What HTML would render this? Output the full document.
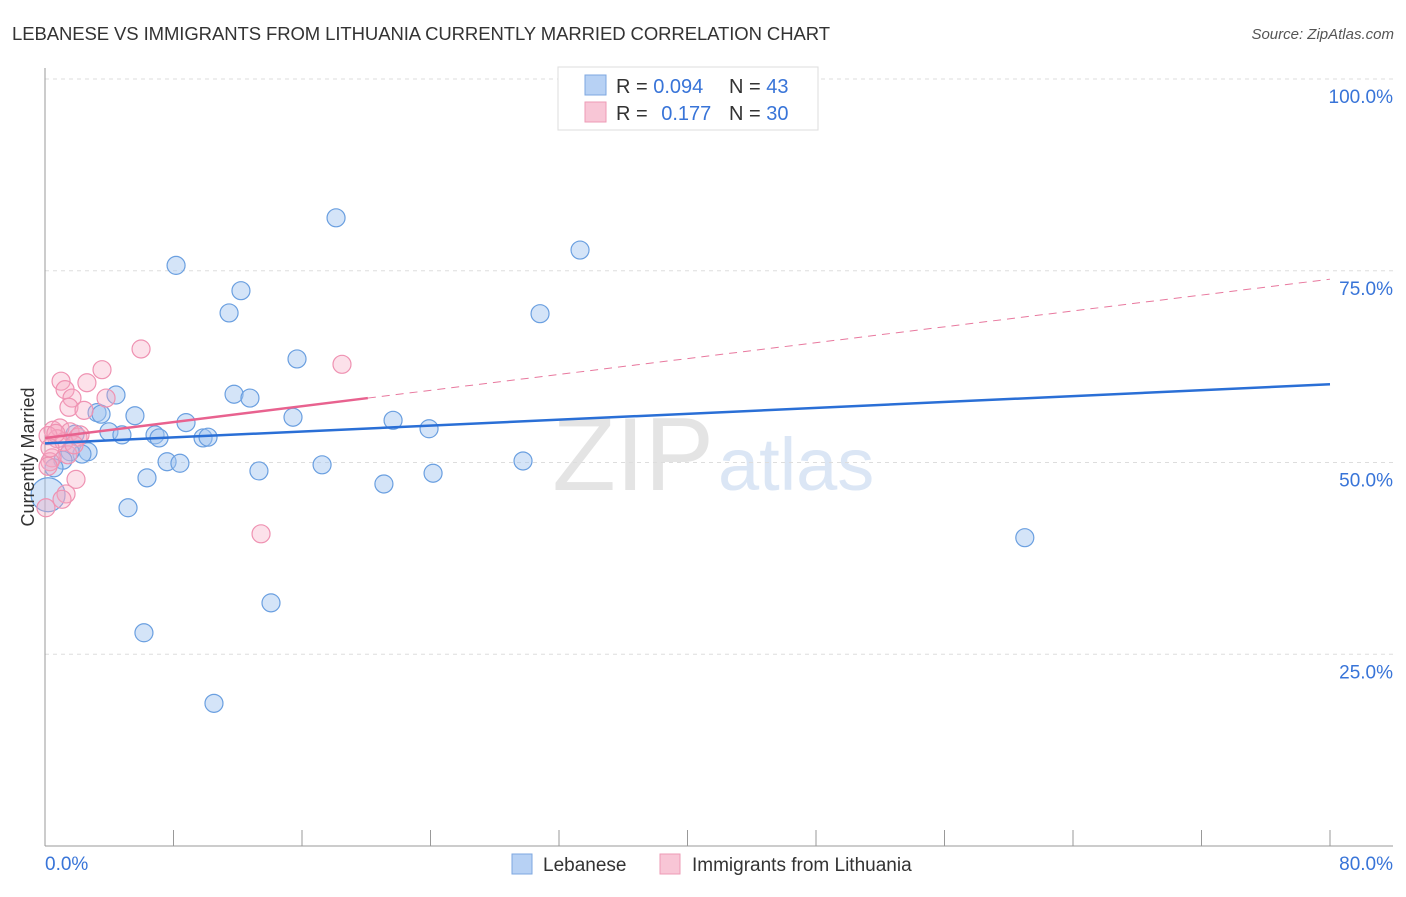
<!DOCTYPE html>
<html><head><meta charset="utf-8"><style>
body{margin:0;background:#fff;font-family:"Liberation Sans",sans-serif;}
svg text{font-family:"Liberation Sans",sans-serif;}
</style></head><body>
<svg id="c" width="1406" height="892" xmlns="http://www.w3.org/2000/svg">
<text x="12" y="40" font-size="18.5" fill="#333" textLength="818">LEBANESE VS IMMIGRANTS FROM LITHUANIA CURRENTLY MARRIED CORRELATION CHART</text>
<text x="1394" y="39" font-size="15" fill="#555" font-style="italic" text-anchor="end">Source: ZipAtlas.com</text>
<text x="714" y="490" font-size="104" fill="#e4e4e4" text-anchor="end" font-family="Liberation Serif">ZIP</text>
<text x="718" y="490" font-size="74" fill="#dbe6f5">atlas</text>
<g id="grid"></g>
<g id="axes"></g>
<g id="marks"></g>
<text x="34" y="457" font-size="18" fill="#333" text-anchor="middle" transform="rotate(-90 34 457)">Currently Married</text>
<g>
<rect x="558" y="67" width="260" height="63" fill="#fff" stroke="#ddd"/>
<rect x="585" y="75" width="21" height="20" fill="#b7d1f4" stroke="#7ea7e0"/>
<rect x="585" y="102" width="21" height="20" fill="#f8c6d6" stroke="#ee9bb6"/>
<text x="616" y="93" font-size="20" fill="#333">R = <tspan fill="#3874d8">0.094</tspan></text>
<text x="729" y="93" font-size="20" fill="#333">N = <tspan fill="#3874d8">43</tspan></text>
<text x="616" y="120" font-size="20" fill="#333">R = <tspan fill="#3874d8" dx="8">0.177</tspan></text>
<text x="729" y="120" font-size="20" fill="#333">N = <tspan fill="#3874d8">30</tspan></text>
</g>
<g>
<rect x="512" y="854" width="20" height="20" fill="#b7d1f4" stroke="#7ea7e0"/>
<text x="543" y="871" font-size="19" fill="#333">Lebanese</text>
<rect x="660" y="854" width="20" height="20" fill="#f8c6d6" stroke="#ee9bb6"/>
<text x="692" y="871" font-size="19" fill="#333">Immigrants from Lithuania</text>
</g>
</svg>
<script>
const yTicks=[25,50,75,100];
const yTickLabels=["25.0%","50.0%","75.0%","100.0%"];
const xTicks=[0,8,16,24,32,40,48,56,64,72,80];
const blueX=[18.12,33.31,8.16,12.2,11.46,30.82,15.69,4.42,11.77,12.76,3.24,3.49,5.6,15.44,8.78,21.67,23.91,3.98,4.79,6.85,7.1,9.84,10.15,2.68,2.3,1.56,1.12,7.6,8.4,17.25,29.76,13.32,0.56,24.16,6.35,21.1,5.17,61.0,14.07,6.16,10.52,0.19,1.87];
const blueY=[81.9,77.7,75.7,72.4,69.5,69.4,63.5,58.8,58.9,58.4,56.5,56.3,56.1,55.9,55.2,55.5,54.4,54.0,53.6,53.6,53.2,53.2,53.3,51.4,51.1,51.4,50.3,50.1,49.9,49.7,50.2,48.9,49.3,48.6,48.0,47.2,44.1,40.2,31.7,27.8,18.6,45.8,53.7];
const pinkX=[5.98,18.49,3.55,1.0,2.61,1.25,1.68,3.8,1.49,2.43,0.5,0.93,1.56,2.05,0.75,0.19,1.18,2.18,1.43,0.44,0.31,0.19,1.93,1.31,1.06,0.06,13.45,0.68,1.81,0.31];
const pinkY=[64.8,62.8,62.1,60.6,60.4,59.5,58.4,58.4,57.2,56.8,54.2,54.5,54.0,53.3,53.1,53.5,52.7,53.6,51.0,50.6,50.1,49.5,47.8,45.9,45.2,44.1,40.7,53.8,52.3,51.9];
const blueTrend=[52.5,60.2];
const pinkTrend=[53.2,73.9];
const pinkSolidEnd=20.1;
const NS="http://www.w3.org/2000/svg";
const X=v=>45+v/80*1285, Y=v=>846-v/100*767;
function mk(t,a,p){const e=document.createElementNS(NS,t);for(const k in a)e.setAttribute(k,a[k]);p.appendChild(e);return e;}
const grid=document.getElementById('grid'),axes=document.getElementById('axes'),marks=document.getElementById('marks');
yTicks.forEach((t,i)=>{
 const l=mk('line',{x1:45,x2:1393,y1:Y(t),y2:Y(t),stroke:'#ddd','stroke-dasharray':'4,4'},grid);
 
 
 const tx=mk('text',{x:1393,y:Y(t)+24,'font-size':19,fill:'#3874d8','text-anchor':'end'},axes);
 tx.textContent=yTickLabels[i];
 
 
});
mk('line',{x1:45,x2:45,y1:68,y2:846,stroke:'#999'},axes);
mk('line',{x1:45,x2:1393,y1:846,y2:846,stroke:'#999'},axes);
xTicks.forEach(t=>{const l=mk('line',{x1:X(t),x2:X(t),y1:830,y2:846,stroke:'#999'},axes);
 
 });
const x0=mk('text',{x:45,y:870,'font-size':19,fill:'#3874d8'},axes);x0.textContent='0.0%';


const x1=mk('text',{x:1393,y:870,'font-size':19,fill:'#3874d8','text-anchor':'end'},axes);x1.textContent='80.0%';


blueX.forEach((v,i)=>{const c=mk('circle',{cx:X(v),cy:Y(blueY[i]),r:i==41?17:9,fill:'rgba(160,196,240,0.45)',stroke:'#6a9fe0','stroke-width':1.2},marks);
 
 });
pinkX.forEach((v,i)=>{const c=mk('circle',{cx:X(v),cy:Y(pinkY[i]),r:9,fill:'rgba(246,170,196,0.35)',stroke:'#ef92b2','stroke-width':1.2},marks);
 
 });
const pAt=x=>pinkTrend[0]+(pinkTrend[1]-pinkTrend[0])*x/80;
const pd=mk('line',{x1:X(pinkSolidEnd),y1:Y(pAt(pinkSolidEnd)),x2:X(80),y2:Y(pinkTrend[1]),stroke:'#e8789e','stroke-width':1,'stroke-dasharray':'8,6'},marks);


const ps=mk('line',{x1:X(0),y1:Y(pinkTrend[0]),x2:X(pinkSolidEnd),y2:Y(pAt(pinkSolidEnd)),stroke:'#e8628f','stroke-width':2.5},marks);


const bl=mk('line',{x1:X(0),y1:Y(blueTrend[0]),x2:X(80),y2:Y(blueTrend[1]),stroke:'#2a6fd6','stroke-width':2.5},marks);


</script>
</body></html>
